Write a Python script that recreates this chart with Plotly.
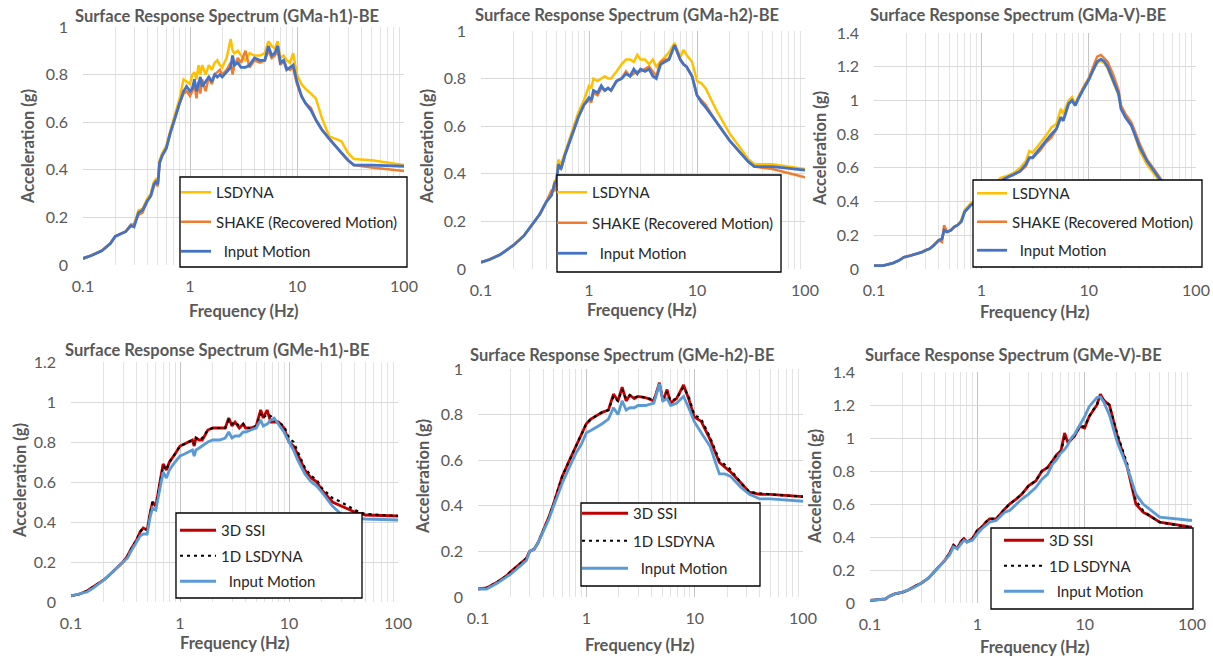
import plotly.graph_objects as go

W, H = 1213, 656

# ---------------- data ----------------
freq_a_h1 = [0.1, 0.12, 0.15, 0.18, 0.2, 0.22, 0.25, 0.28, 0.3, 0.33, 0.36, 0.4, 0.43, 0.46, 0.48, 0.5, 0.52,
             0.55, 0.6, 0.65, 0.7, 0.75, 0.8, 0.87, 0.93, 1.0, 1.05, 1.1, 1.15, 1.2, 1.25, 1.3, 1.4, 1.5, 1.6,
             1.7, 1.8, 1.9, 2.0, 2.2, 2.4, 2.5, 2.6, 2.8, 3.0, 3.3, 3.6, 4.0, 4.5, 5.0, 5.4, 5.8, 6.2, 6.6,
             7.0, 7.5, 8.0, 8.6, 9.2, 10, 11, 12, 13.5, 15, 17, 20, 23, 26, 30, 34, 50, 100]
lsdyna_a_h1 = [0.028, 0.04, 0.06, 0.09, 0.12, 0.13, 0.14, 0.165, 0.17, 0.23, 0.235, 0.28, 0.3, 0.35, 0.36, 0.35,
               0.44, 0.47, 0.5, 0.56, 0.61, 0.65, 0.7, 0.78, 0.77, 0.76, 0.8, 0.81, 0.78, 0.84, 0.8, 0.84, 0.8,
               0.84, 0.82, 0.85, 0.86, 0.84, 0.83, 0.87, 0.95, 0.9, 0.89, 0.9, 0.88, 0.86, 0.89, 0.88, 0.88,
               0.89, 0.94, 0.92, 0.91, 0.94, 0.87, 0.88, 0.86, 0.85, 0.89, 0.8, 0.76, 0.74, 0.72, 0.7, 0.62,
               0.54, 0.53, 0.52, 0.47, 0.445, 0.44, 0.42]
shake_a_h1 = [0.025, 0.04, 0.06, 0.09, 0.12, 0.13, 0.14, 0.17, 0.17, 0.21, 0.22, 0.27, 0.29, 0.33, 0.35, 0.33,
              0.43, 0.46, 0.49, 0.55, 0.6, 0.64, 0.68, 0.72, 0.73, 0.71, 0.73, 0.76, 0.7, 0.77, 0.72, 0.78,
              0.73, 0.79, 0.76, 0.8, 0.81, 0.82, 0.8, 0.82, 0.85, 0.8, 0.84, 0.87, 0.85, 0.9, 0.83, 0.86, 0.85,
              0.86, 0.9, 0.87, 0.88, 0.9, 0.84, 0.86, 0.83, 0.82, 0.83, 0.76, 0.71, 0.68, 0.66, 0.61, 0.57,
              0.53, 0.5, 0.47, 0.44, 0.42, 0.41, 0.395]
input_a_h1 = [0.028, 0.04, 0.06, 0.09, 0.12, 0.13, 0.14, 0.165, 0.16, 0.22, 0.23, 0.27, 0.29, 0.34, 0.35, 0.34,
              0.43, 0.46, 0.49, 0.55, 0.6, 0.64, 0.68, 0.73, 0.75, 0.73, 0.74, 0.78, 0.73, 0.76, 0.79, 0.75,
              0.77, 0.79, 0.77, 0.8, 0.79, 0.8, 0.79, 0.81, 0.83, 0.88, 0.84, 0.85, 0.83, 0.83, 0.84, 0.87,
              0.86, 0.86, 0.92, 0.88, 0.89, 0.92, 0.85, 0.86, 0.82, 0.83, 0.84, 0.77, 0.71, 0.68, 0.65, 0.61,
              0.57, 0.53, 0.5, 0.47, 0.44, 0.42, 0.42, 0.415]

freq_a_h2 = [0.1, 0.12, 0.15, 0.18, 0.2, 0.25, 0.3, 0.35, 0.4, 0.45, 0.48, 0.5, 0.52, 0.55, 0.6, 0.7, 0.8, 0.9,
             1.0, 1.05, 1.1, 1.2, 1.3, 1.4, 1.5, 1.6, 1.8, 2.0, 2.2, 2.4, 2.6, 2.8, 3.0, 3.3, 3.6, 3.9, 4.2,
             4.6, 5.0, 5.5, 6.2, 7.0, 7.5, 8.0, 9.0, 10, 11, 12, 15, 20, 25, 30, 34, 50, 100]
lsdyna_a_h2 = [0.028, 0.04, 0.06, 0.085, 0.1, 0.14, 0.19, 0.23, 0.28, 0.31, 0.37, 0.37, 0.46, 0.44, 0.49, 0.58,
               0.66, 0.71, 0.77, 0.76, 0.8, 0.79, 0.8, 0.81, 0.8, 0.8, 0.83, 0.86, 0.88, 0.88, 0.87, 0.9, 0.88,
               0.88, 0.86, 0.88, 0.85, 0.87, 0.89, 0.91, 0.95, 0.89, 0.92, 0.9, 0.87, 0.79, 0.78, 0.76, 0.67,
               0.57, 0.51, 0.46, 0.44, 0.44, 0.42]
shake_a_h2 = [0.028, 0.04, 0.06, 0.085, 0.1, 0.14, 0.19, 0.23, 0.28, 0.33, 0.33, 0.37, 0.43, 0.42, 0.48, 0.57,
              0.64, 0.69, 0.71, 0.7, 0.74, 0.73, 0.76, 0.75, 0.76, 0.75, 0.79, 0.8, 0.83, 0.81, 0.82, 0.83,
              0.83, 0.84, 0.85, 0.83, 0.81, 0.87, 0.88, 0.88, 0.94, 0.88, 0.86, 0.85, 0.81, 0.73, 0.71, 0.69,
              0.62, 0.54, 0.49, 0.45, 0.43, 0.42, 0.385]
input_a_h2 = [0.028, 0.04, 0.06, 0.085, 0.1, 0.14, 0.19, 0.23, 0.28, 0.31, 0.36, 0.37, 0.44, 0.42, 0.48, 0.57,
              0.64, 0.69, 0.72, 0.71, 0.75, 0.74, 0.77, 0.75, 0.76, 0.75, 0.79, 0.8, 0.82, 0.81, 0.84, 0.82,
              0.84, 0.83, 0.84, 0.81, 0.8, 0.86, 0.87, 0.88, 0.94, 0.88, 0.86, 0.85, 0.81, 0.73, 0.7, 0.68,
              0.62, 0.54, 0.49, 0.45, 0.43, 0.43, 0.415]

freq_a_v = [0.1, 0.12, 0.13, 0.15, 0.17, 0.19, 0.22, 0.25, 0.28, 0.3, 0.33, 0.36, 0.4, 0.43, 0.45, 0.48, 0.52,
            0.56, 0.6, 0.65, 0.7, 0.75, 0.8, 0.9, 1.0, 1.2, 1.4, 1.5, 1.7, 2.0, 2.3, 2.6, 2.8, 3.0, 3.5, 4.0,
            4.5, 5.0, 5.5, 5.8, 6.5, 7.0, 7.5, 8.0, 9.0, 10, 11, 12, 13, 14, 15, 17, 19, 20, 22, 25, 30, 35,
            40, 45, 50, 100]
lsdyna_a_v = [0.02, 0.02, 0.025, 0.035, 0.05, 0.07, 0.08, 0.09, 0.1, 0.11, 0.12, 0.14, 0.17, 0.18, 0.22, 0.22,
              0.23, 0.25, 0.26, 0.29, 0.35, 0.37, 0.39, 0.41, 0.43, 0.48, 0.51, 0.54, 0.55, 0.57, 0.6, 0.64,
              0.7, 0.69, 0.74, 0.79, 0.84, 0.86, 0.95, 0.92, 1.0, 1.02, 0.98, 1.02, 1.08, 1.13, 1.18, 1.22,
              1.235, 1.22, 1.19, 1.11, 1.03, 0.96, 0.9, 0.86, 0.7, 0.62, 0.57, 0.53, 0.49, 0.4]
shake_a_v = [0.02, 0.02, 0.025, 0.035, 0.05, 0.07, 0.08, 0.09, 0.1, 0.11, 0.12, 0.14, 0.17, 0.16, 0.26, 0.22,
             0.23, 0.25, 0.26, 0.28, 0.34, 0.36, 0.38, 0.4, 0.42, 0.47, 0.5, 0.52, 0.54, 0.56, 0.58, 0.61,
             0.66, 0.66, 0.7, 0.75, 0.78, 0.83, 0.9, 0.88, 0.98, 1.0, 0.97, 1.01, 1.08, 1.13, 1.2, 1.26, 1.27,
             1.25, 1.23, 1.15, 1.06, 0.97, 0.92, 0.87, 0.74, 0.65, 0.6, 0.55, 0.51, 0.41]
input_a_v = [0.02, 0.02, 0.025, 0.035, 0.05, 0.07, 0.08, 0.09, 0.1, 0.11, 0.12, 0.14, 0.17, 0.18, 0.23, 0.22,
             0.23, 0.25, 0.26, 0.28, 0.34, 0.36, 0.38, 0.4, 0.42, 0.47, 0.5, 0.52, 0.54, 0.56, 0.58, 0.62,
             0.66, 0.66, 0.71, 0.76, 0.8, 0.83, 0.9, 0.88, 0.98, 1.0, 0.97, 1.01, 1.07, 1.12, 1.18, 1.23,
             1.245, 1.23, 1.2, 1.12, 1.04, 0.95, 0.9, 0.85, 0.72, 0.64, 0.59, 0.54, 0.5, 0.4]

freq_e_h1 = [0.1, 0.12, 0.14, 0.16, 0.18, 0.2, 0.23, 0.26, 0.3, 0.33, 0.36, 0.4, 0.43, 0.46, 0.5, 0.53, 0.56,
             0.6, 0.65, 0.7, 0.75, 0.8, 0.9, 1.0, 1.1, 1.2, 1.3, 1.35, 1.4, 1.5, 1.6, 1.8, 2.0, 2.3, 2.6, 2.8,
             3.0, 3.2, 3.5, 3.8, 4.0, 4.5, 5.0, 5.5, 5.8, 6.3, 6.8, 7.3, 8.0, 9.0, 10, 11, 12, 14, 16, 18,
             20, 25, 30, 40, 50, 100]
ssi_e_h1 = [0.03, 0.04, 0.055, 0.075, 0.095, 0.11, 0.14, 0.17, 0.2, 0.23, 0.27, 0.31, 0.35, 0.37, 0.36, 0.44,
            0.5, 0.48, 0.58, 0.69, 0.66, 0.7, 0.74, 0.78, 0.79, 0.8, 0.81, 0.78, 0.82, 0.81, 0.81, 0.86, 0.87,
            0.87, 0.87, 0.92, 0.88, 0.9, 0.87, 0.89, 0.87, 0.87, 0.88, 0.96, 0.92, 0.96, 0.9, 0.9, 0.9, 0.87,
            0.8, 0.78, 0.74, 0.66, 0.62, 0.6, 0.56, 0.5, 0.48, 0.45, 0.435, 0.43]
lsdyna1d_e_h1 = [0.03, 0.04, 0.055, 0.075, 0.095, 0.11, 0.14, 0.17, 0.2, 0.23, 0.27, 0.31, 0.35, 0.37, 0.36,
                 0.44, 0.5, 0.48, 0.58, 0.68, 0.66, 0.7, 0.74, 0.78, 0.79, 0.8, 0.81, 0.79, 0.82, 0.81, 0.82,
                 0.86, 0.87, 0.87, 0.87, 0.91, 0.89, 0.9, 0.88, 0.89, 0.87, 0.87, 0.88, 0.94, 0.92, 0.94, 0.93,
                 0.91, 0.9, 0.88, 0.82, 0.8, 0.75, 0.67, 0.63, 0.61, 0.57, 0.52, 0.5, 0.46, 0.44, 0.43]
input_e_h1 = [0.03, 0.04, 0.05, 0.07, 0.09, 0.11, 0.14, 0.17, 0.2, 0.22, 0.26, 0.3, 0.33, 0.34, 0.34, 0.42,
              0.47, 0.46, 0.55, 0.65, 0.62, 0.66, 0.7, 0.73, 0.74, 0.75, 0.76, 0.73, 0.76, 0.77, 0.78, 0.8,
              0.81, 0.81, 0.82, 0.85, 0.82, 0.83, 0.83, 0.85, 0.85, 0.86, 0.87, 0.91, 0.88, 0.89, 0.91, 0.92,
              0.89, 0.85, 0.8, 0.76, 0.71, 0.64, 0.6, 0.58, 0.55, 0.48, 0.44, 0.42, 0.415, 0.41]

freq_e_h2 = [0.1, 0.12, 0.15, 0.18, 0.2, 0.25, 0.28, 0.3, 0.33, 0.36, 0.4, 0.45, 0.5, 0.55, 0.6, 0.7, 0.8, 0.9,
             1.0, 1.1, 1.2, 1.4, 1.6, 1.78, 1.96, 2.14, 2.33, 2.52, 2.77, 3.0, 3.5, 4.2, 4.73, 5.1, 5.56, 6.0,
             6.8, 7.9, 8.8, 9.9, 11.5, 13.9, 16.9, 19, 21.3, 26.8, 32, 40, 50, 100]
ssi_e_h2 = [0.035, 0.04, 0.065, 0.09, 0.11, 0.15, 0.17, 0.2, 0.21, 0.24, 0.29, 0.35, 0.41, 0.47, 0.53, 0.6, 0.66,
            0.71, 0.76, 0.78, 0.79, 0.81, 0.82, 0.89, 0.86, 0.92, 0.86, 0.885, 0.87, 0.88, 0.875, 0.86, 0.94,
            0.86, 0.91, 0.85, 0.87, 0.93, 0.87, 0.79, 0.77, 0.69, 0.59, 0.57, 0.55, 0.5, 0.46, 0.45, 0.45, 0.44]
lsdyna1d_e_h2 = [0.035, 0.04, 0.065, 0.09, 0.11, 0.15, 0.17, 0.2, 0.21, 0.24, 0.29, 0.35, 0.41, 0.47, 0.53, 0.6,
                 0.66, 0.71, 0.76, 0.78, 0.79, 0.81, 0.82, 0.88, 0.86, 0.91, 0.87, 0.885, 0.875, 0.88, 0.875,
                 0.865, 0.93, 0.87, 0.9, 0.86, 0.87, 0.92, 0.88, 0.8, 0.78, 0.7, 0.6, 0.58, 0.56, 0.5, 0.46,
                 0.455, 0.45, 0.44]
input_e_h2 = [0.035, 0.035, 0.06, 0.085, 0.1, 0.14, 0.16, 0.2, 0.21, 0.24, 0.29, 0.34, 0.4, 0.45, 0.5, 0.57,
              0.63, 0.67, 0.72, 0.73, 0.74, 0.76, 0.78, 0.83, 0.8, 0.86, 0.82, 0.83, 0.83, 0.84, 0.84, 0.85,
              0.935, 0.86, 0.87, 0.84, 0.85, 0.88, 0.83, 0.77, 0.72, 0.66, 0.54, 0.54, 0.53, 0.48, 0.45, 0.43,
              0.43, 0.42]

freq_e_v = [0.1, 0.12, 0.13, 0.14, 0.15, 0.17, 0.2, 0.23, 0.26, 0.3, 0.35, 0.4, 0.45, 0.5, 0.55, 0.6, 0.65, 0.7,
            0.75, 0.8, 0.9, 1.0, 1.1, 1.2, 1.3, 1.5, 1.8, 2.0, 2.3, 2.6, 3.0, 3.5, 4.0, 4.5, 5.0, 5.5, 6.0,
            6.5, 7.0, 7.5, 8.0, 9.0, 10, 11, 12, 13, 14, 15, 17, 20, 25, 30, 35, 40, 50, 100]
ssi_e_v = [0.015, 0.02, 0.02, 0.025, 0.04, 0.055, 0.065, 0.08, 0.1, 0.12, 0.15, 0.19, 0.23, 0.26, 0.3, 0.35,
           0.33, 0.37, 0.39, 0.37, 0.39, 0.44, 0.46, 0.49, 0.51, 0.51, 0.57, 0.6, 0.63, 0.66, 0.71, 0.74, 0.8,
           0.82, 0.86, 0.9, 0.92, 1.03, 0.97, 0.99, 1.01, 1.07, 1.06, 1.13, 1.17, 1.2, 1.265, 1.23, 1.2, 1.02,
           0.82, 0.6, 0.55, 0.53, 0.49, 0.46]
lsdyna1d_e_v = [0.015, 0.02, 0.02, 0.025, 0.04, 0.055, 0.065, 0.08, 0.1, 0.12, 0.15, 0.19, 0.23, 0.26, 0.3,
                0.35, 0.33, 0.37, 0.39, 0.37, 0.39, 0.44, 0.46, 0.49, 0.51, 0.51, 0.57, 0.6, 0.63, 0.66, 0.71,
                0.74, 0.8, 0.82, 0.86, 0.9, 0.92, 1.0, 0.98, 0.99, 1.01, 1.07, 1.07, 1.13, 1.17, 1.2, 1.26,
                1.23, 1.2, 1.03, 0.84, 0.62, 0.56, 0.53, 0.49, 0.455]
input_e_v = [0.015, 0.02, 0.02, 0.025, 0.04, 0.055, 0.065, 0.08, 0.095, 0.12, 0.15, 0.19, 0.23, 0.26, 0.29,
             0.34, 0.33, 0.36, 0.38, 0.37, 0.38, 0.42, 0.45, 0.47, 0.49, 0.5, 0.55, 0.56, 0.6, 0.63, 0.66, 0.7,
             0.75, 0.78, 0.84, 0.87, 0.91, 0.93, 0.96, 1.0, 1.02, 1.08, 1.13, 1.19, 1.22, 1.245, 1.25, 1.22,
             1.14, 0.98, 0.82, 0.66, 0.6, 0.57, 0.52, 0.5]

titles = ["Surface Response Spectrum (GMa-h1)-BE", "Surface Response Spectrum (GMa-h2)-BE",
          "Surface Response Spectrum (GMa-V)-BE", "Surface Response Spectrum (GMe-h1)-BE",
          "Surface Response Spectrum (GMe-h2)-BE", "Surface Response Spectrum (GMe-V)-BE"]
y_max = [1.0, 1.0, 1.4, 1.2, 1.0, 1.4]
names_top = ["LSDYNA", "SHAKE (Recovered Motion)", "\u00a0\u00a0Input Motion"]
names_bottom = ["3D SSI", "1D LSDYNA", "\u00a0\u00a0Input Motion"]
x_tick_vals = [0.1, 1, 10, 100]
x_tick_text = ["0.1", "1", "10", "100"]

panels = [
    (freq_a_h1, [lsdyna_a_h1, shake_a_h1, input_a_h1]),
    (freq_a_h2, [lsdyna_a_h2, shake_a_h2, input_a_h2]),
    (freq_a_v, [lsdyna_a_v, shake_a_v, input_a_v]),
    (freq_e_h1, [ssi_e_h1, lsdyna1d_e_h1, input_e_h1]),
    (freq_e_h2, [ssi_e_h2, lsdyna1d_e_h2, input_e_h2]),
    (freq_e_v, [ssi_e_v, lsdyna1d_e_v, input_e_v]),
]

# ---------------- styling / layout (pixels) ----------------
plot_px = [(83, 404, 27, 265), (481, 805, 31, 269), (874, 1196, 33, 269),
           (71, 398, 362, 602), (478, 803, 369, 597), (870, 1192, 372, 603)]
title_px = [(73, 16), (473, 15), (868, 15), (63, 350), (468, 355), (863, 355)]
ytitle_px = [(28, 147), (427, 147), (820, 149), (20, 481), (423, 477), (815, 487)]
xtitle_px = [(244, 311), (642, 310), (1035, 312), (235, 643), (640, 645), (1035, 647)]
legend_box_px = [(180, 177, 407, 267), (557, 175, 781, 272), (973, 180, 1202, 267),
                 (176, 513, 362, 598), (581, 503, 760, 586), (991, 528, 1193, 609)]
# (x of the legend sample line start, y of first entry centre, sample width, entry gap)
legend_entry_px = [(184, 193, 30, 7), (560, 193, 30, 8), (980, 194, 30, 6),
                   (183, 531, 36, 3), (585, 514, 46, 5), (1007, 541, 40, 3)]

styles_top = [dict(color="#FFC000", width=2.5), dict(color="#ED7D31", width=2.5),
              dict(color="#4472C4", width=2.8)]
styles_bottom = [dict(color="#C00000", width=2.8), dict(color="#000000", width=2.2, dash="3px,4px"),
                 dict(color="#5B9BD5", width=2.8)]

FONT = "Lato, 'Open Sans', sans-serif"
GRAY = "#595959"


def px_x(x):
    return x / W


def px_y(y):
    return 1 - y / H


fig = go.Figure()
annotations = []
shapes = []
layout_extra = {}

for i, (freq, series) in enumerate(panels):
    k = i + 1
    xa = "x" if k == 1 else f"x{k}"
    ya = "y" if k == 1 else f"y{k}"
    leg = "legend" if k == 1 else f"legend{k}"
    names = names_top if i < 3 else names_bottom
    styles = styles_top if i < 3 else styles_bottom
    for j, vals in enumerate(series):
        fig.add_trace(go.Scatter(
            x=freq, y=vals, mode="lines", name=names[j], line=styles[j],
            xaxis=xa, yaxis=ya, legend=leg, legendgroup=f"g{k}_{j}", showlegend=True,
        ))
    x0, x1, top, bottom = plot_px[i]
    layout_extra["xaxis" if k == 1 else f"xaxis{k}"] = dict(
        type="log", range=[-1, 2], domain=[px_x(x0), px_x(x1)], anchor=ya,
        tickvals=x_tick_vals, ticktext=x_tick_text, automargin=False,
        showgrid=True, gridcolor="#c4c4c4", gridwidth=1,
        minor=dict(dtick="D1", showgrid=True, gridcolor="#e3e3e3", gridwidth=1),
        showline=False, zeroline=False, ticks="",
        tickfont=dict(family=FONT, size=16, color=GRAY), ticklabelstandoff=10,
    )
    layout_extra["yaxis" if k == 1 else f"yaxis{k}"] = dict(
        range=[0, y_max[i]], dtick=0.2, domain=[px_y(bottom), px_y(top)], anchor=xa,
        automargin=False,
        showgrid=True, gridcolor="#d9d9d9", gridwidth=1, zeroline=False, showline=False, ticks="",
        tickfont=dict(family=FONT, size=16, color=GRAY), ticklabelstandoff=14,
    )
    # legend
    lx, ly, iw, gap = legend_entry_px[i]
    layout_extra[leg] = dict(
        x=px_x(lx - 8), y=px_y(ly - 17), xanchor="left", yanchor="top",
        bgcolor="rgba(0,0,0,0)", borderwidth=0, tracegroupgap=gap,
        itemwidth=iw, font=dict(family=FONT, size=15, color="#262626"),
    )
    bx0, by0, bx1, by1 = legend_box_px[i]
    shapes.append(dict(type="rect", xref="paper", yref="paper",
                       x0=px_x(bx0), x1=px_x(bx1), y0=px_y(by1), y1=px_y(by0),
                       fillcolor="white", line=dict(color="#000000", width=1.3), layer="above"))
    tx, ty = title_px[i]
    annotations.append(dict(text=f"<b>{titles[i]}</b>", xref="paper", yref="paper",
                            x=px_x(tx), y=px_y(ty), xanchor="left", yanchor="middle", showarrow=False,
                            font=dict(family=FONT, size=16.5, color=GRAY)))
    yx, yy = ytitle_px[i]
    annotations.append(dict(text="<b>Acceleration (g)</b>", xref="paper", yref="paper",
                            x=px_x(yx), y=px_y(yy), xanchor="center", yanchor="middle",
                            textangle=-90, showarrow=False,
                            font=dict(family=FONT, size=16.5, color=GRAY)))
    fx, fy = xtitle_px[i]
    annotations.append(dict(text="<b>Frequency (Hz)</b>", xref="paper", yref="paper",
                            x=px_x(fx), y=px_y(fy), xanchor="center", yanchor="middle",
                            showarrow=False, font=dict(family=FONT, size=16.5, color=GRAY)))

fig.update_layout(
    width=W, height=H, margin=dict(l=0, r=0, t=0, b=0, pad=0, autoexpand=False),
    paper_bgcolor="white", plot_bgcolor="white",
    annotations=annotations, shapes=shapes,
    font=dict(family=FONT, color=GRAY),
    **layout_extra,
)

fig.write_html("out.html", config={"displayModeBar": False},
               post_script="document.body.style.margin='0px';document.body.style.overflow='hidden';")
